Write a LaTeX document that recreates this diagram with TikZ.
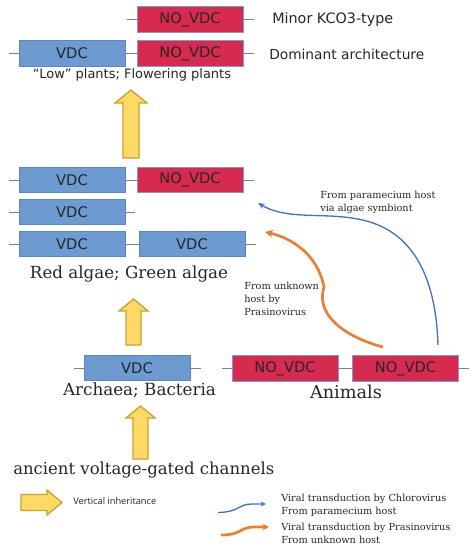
\documentclass[tikz,border=0pt]{standalone}
\usepackage{fontspec}
\usepackage{graphicx}
\setmainfont{DejaVu Serif}
\setsansfont{DejaVu Sans}
\newfontfamily\legendfont{Open Sans}
\usetikzlibrary{arrows.meta}
\definecolor{vdcfill}{HTML}{6D9BD1}
\definecolor{vdcdraw}{HTML}{5A87C4}
\definecolor{novfill}{HTML}{D62B4F}
\definecolor{novdraw}{HTML}{8098CE}
\definecolor{yfill}{HTML}{FFD966}
\definecolor{ydraw}{HTML}{C9A227}
\definecolor{bluecurve}{HTML}{4472C4}
\definecolor{orangecurve}{HTML}{ED7D31}
\definecolor{stubgray}{HTML}{808080}
\definecolor{txt}{HTML}{262626}
\newcommand{\fitw}[2]{\resizebox{#1}{!}{#2}}
\begin{document}
\begin{tikzpicture}[x=0.75pt,y=-0.75pt,
  boxbase/.style={minimum width=79.5pt, minimum height=19pt, inner sep=0pt, line width=0.75pt,
    font=\sffamily\fontsize{11}{13}\selectfont, text=txt},
  vdc/.style={boxbase, draw=vdcdraw, fill=vdcfill},
  novdc/.style={boxbase, draw=novdraw, fill=novfill},
  stub/.style={draw=stubgray, line width=0.75pt},
  yarrow/.style={fill=yfill, draw=ydraw, line width=1pt, line join=miter},
  lbl/.style={inner sep=0pt, text=txt},
  small/.style={lbl, font=\fontsize{7.3}{9.75}\selectfont, align=left, anchor=west},
  bluec/.style={draw=bluecurve, line width=1pt, -{Stealth[length=5pt,width=4pt]}},
  orangec/.style={draw=orangecurve, line width=2pt, -{Stealth[length=6pt,width=6pt]}}
]
\useasboundingbox (0,0) rectangle (473,550);

% ---- top rows (plants)
\node[novdc] (p1) at (190,19.5) {NO\_VDC};
\draw[stub] (p1.west) -- ++(-10,0);
\draw[stub] (p1.east) -- ++(10,0);
\node[lbl, anchor=west, font=\sffamily] (t1) at (272,20) {\fitw{90.75pt}{Minor KCO3-type}};

\node[vdc] (p2a) at (72,53.5) {VDC};
\node[novdc] (p2b) at (190,53.5) {NO\_VDC};
\draw[stub] (p2a.west) -- ++(-10,0);
\draw[stub] (p2a) -- (p2b);
\draw[stub] (p2b.east) -- ++(10,0);
\node[lbl, anchor=west, font=\sffamily] (t2) at (269,54) {\fitw{116.25pt}{Dominant architecture}};
\node[lbl, font=\sffamily] (t3) at (132,75) {\fitw{148.5pt}{“Low” plants; Flowering plants}};

% arrow 1
\draw[yarrow] (123,158) -- (123,103) -- (115,103) -- (131,90) -- (147,103) -- (139,103) -- (139,158) -- cycle;

% ---- algae rows
\node[vdc] (a1a) at (72,180) {VDC};
\node[novdc] (a1b) at (190,180) {NO\_VDC};
\draw[stub] (a1a.west) -- ++(-10,0);
\draw[stub] (a1a) -- (a1b);
\draw[stub] (a1b.east) -- ++(10,0);

\node[vdc] (a2a) at (72,212) {VDC};
\draw[stub] (a2a.west) -- ++(-10,0);
\draw[stub] (a2a.east) -- ++(9,0);

\node[vdc] (a3a) at (72,244) {VDC};
\node[vdc] (a3b) at (192,244) {VDC};
\draw[stub] (a3a.west) -- ++(-10,0);
\draw[stub] (a3a) -- (a3b);
\draw[stub] (a3b.east) -- ++(10,0);
\node[lbl] (t4) at (129,274) {\fitw{148.5pt}{Red algae; Green algae}};

% arrow 2
\draw[yarrow] (126,345) -- (126,311) -- (119,311) -- (133.5,299) -- (148,311) -- (141,311) -- (141,345) -- cycle;

% ---- bottom rows
\node[vdc] (b1) at (137,368) {VDC};
\draw[stub] (b1.west) -- ++(-10,0);
\draw[stub] (b1.east) -- ++(10,0);
\node[novdc] (n1) at (285,368.5) {NO\_VDC};
\node[novdc] (n2) at (405.5,368.5) {NO\_VDC};
\draw[stub] (n1.west) -- ++(-10,0);
\draw[stub] (n1) -- (n2);
\draw[stub] (n2.east) -- ++(10,0);
\node[lbl] (t5) at (139.5,390) {\fitw{114.75pt}{Archaea; Bacteria}};
\node[lbl] (t6) at (346,392) {\fitw{54pt}{Animals}};

% arrow 3
\draw[yarrow] (133,459) -- (133,418) -- (126,418) -- (140.5,406) -- (155,418) -- (148,418) -- (148,459) -- cycle;
\node[lbl, anchor=west] (t7) at (13,470) {\fitw{195.75pt}{ancient voltage-gated channels}};

% ---- transduction curves
\coordinate (bt) at (258,203);
\coordinate (ot) at (265,232);
\draw[bluec] (438,345) .. controls (436,280) and (415,236) .. (370,222) .. controls (330,210) and (290,222) .. (bt);
\draw[orangec] (383,347) .. controls (345,337) and (315,315) .. (324,287) .. controls (318,255) and (292,238) .. (ot);
\node[small] (t9) at (320,202.5) {From paramecium host\\via algae symbiont};
\node[small] (t10) at (244,299) {From unknown\\host by\\Prasinovirus};

% ---- legend
\draw[yarrow] (21,510.5) -- (47,510.5) -- (47,515) -- (62,502.5) -- (47,490) -- (47,494.5) -- (21,494.5) -- cycle;
\node[lbl, anchor=west, font=\legendfont\fontsize{6}{7}\selectfont] (t8) at (73,501.5) {\fitw{62.25pt}{Vertical inheritance}};

\coordinate (lb1) at (218,512.5);
\coordinate (lb2) at (266,504);
\draw[bluec, -{Stealth[length=4pt,width=3.5pt]}] (lb1) .. controls (240,512) and (238,504) .. (252,504) -- (lb2);
\coordinate (lo1) at (221,535);
\coordinate (lo2) at (269,527);
\draw[orangec, -{Stealth[length=5pt,width=5pt]}] (lo1) .. controls (242,535) and (240,527) .. (254,527) -- (lo2);
\node[small] (t11) at (281,505) {Viral transduction by Chlorovirus\\From paramecium host};
\node[small] (t12) at (281,533) {Viral transduction by Prasinovirus\\From unknown host};
\end{tikzpicture}
\end{document}
